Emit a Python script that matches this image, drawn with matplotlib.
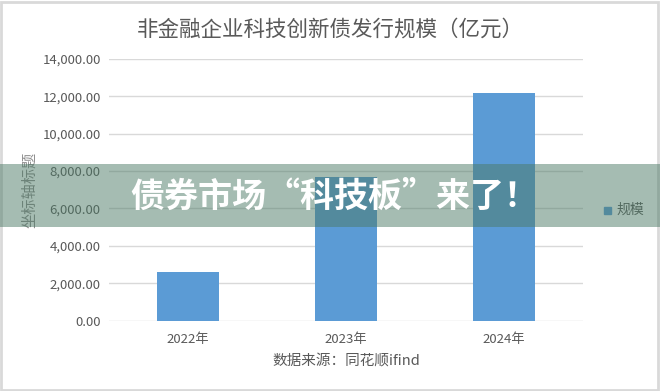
import matplotlib
matplotlib.use("Agg")
import matplotlib.pyplot as plt
from matplotlib.patches import Rectangle
from matplotlib.ticker import FuncFormatter

plt.rcParams['font.family'] = ['Noto Sans CJK SC', 'DejaVu Sans']

categories = ["2022年", "2023年", "2024年"]
values = [2600, 7700, 12200]
title = "非金融企业科技创新债发行规模（亿元）"
series_name = "规模"
y_label = "坐标轴标题"
source = "数据来源：同花顺ifind"
banner = "债券市场“科技板”来了！"

W, H = 660, 391
fig = plt.figure(figsize=(W / 100, H / 100), dpi=100)
fig.patch.set_facecolor("white")

ax = fig.add_axes([109 / W, 1 - 320.5 / H, (583 - 109) / W, (320.5 - 59) / H])
x = range(len(categories))
ax.bar(x, values, width=0.392, color="#5b9bd5", zorder=3, label=series_name)
ax.set_xlim(-0.5, len(categories) - 0.5)
ax.set_ylim(0, 14000)
ax.set_yticks(range(0, 14001, 2000))
ax.yaxis.set_major_formatter(FuncFormatter(lambda v, p: f"{v:,.2f}"))
ax.set_xticks(list(x))
ax.set_xticklabels(categories)
ax.grid(axis="y", color="#d9d9d9", linewidth=1, zorder=0)
for s in ax.spines.values():
    s.set_visible(False)
ax.tick_params(axis="both", length=0, colors="#595959", labelsize=9.5)
ax.tick_params(axis="y", pad=6)
ax.tick_params(axis="x", pad=9)

fig.text(330 / W, 1 - 30 / H, title, ha="center", va="center", fontsize=15.5, color="#595959")
fig.text(30 / W, 1 - 190 / H, y_label, ha="center", va="center", rotation=90,
         fontsize=11, color="#8c8c8c")
fig.text(346 / W, 1 - 362 / H, source, ha="center", va="center", fontsize=10.5, color="#595959")
fig.add_artist(Rectangle((604 / W, 1 - 214 / H), 7 / W, 7 / H, transform=fig.transFigure,
                         color="#5b9bd5", zorder=3))
fig.text(616 / W, 1 - 210 / H, series_name, ha="left", va="center", fontsize=10, color="#595959")

# border
fig.add_artist(Rectangle((1 / W, 1 / H), (W - 3) / W, (H - 3) / H, transform=fig.transFigure,
                         fill=False, edgecolor="#d9d9d9", linewidth=2))

# banner overlay
fig.add_artist(Rectangle((0, 1 - 227 / H), 1, 63 / H, transform=fig.transFigure,
                         facecolor="#4d7a66", alpha=0.5, edgecolor="none", zorder=10))
fig.text(334 / W, 1 - 196 / H, banner, ha="center", va="center", fontsize=24.5,
         fontweight="black", color="white", zorder=11)

fig.savefig("out.png", dpi=100)
